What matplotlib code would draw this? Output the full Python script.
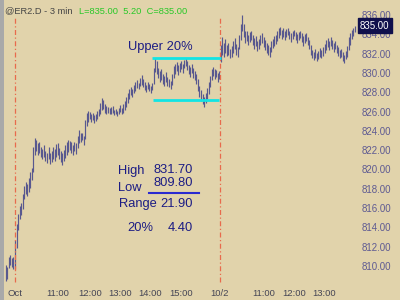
import matplotlib
matplotlib.use("Agg")
import matplotlib.pyplot as plt

# ---- data (3-min bars; index 0 = session open of Oct 1) ----
pre_highs = [810.2, 810.0, 811.0, 811.2, 810.9, 811.0]
pre_lows  = [808.6, 808.8, 809.9, 810.2, 810.0, 809.8]

s1_highs = [812.8, 814.5, 815.5, 816.3, 816.6, 817.6, 818.4, 818.8, 818.6, 819.2,
            819.8, 820.3, 822.4, 823.4, 823.2, 822.8, 822.9, 822.4, 822.2, 822.6,
            822.0, 821.8, 822.4, 821.8, 822.0, 822.4, 822.2, 822.7, 822.8, 822.3,
            822.0, 821.8, 822.1, 822.6, 822.9, 823.2, 823.1, 822.9, 822.6, 823.0,
            822.8, 823.6, 824.2, 823.9, 823.9, 823.6, 825.2, 826.0, 826.2, 826.1,
            825.8, 826.0, 825.7, 825.9, 826.2, 826.4, 827.0, 827.5, 827.3, 826.9,
            826.7, 826.6, 826.5, 826.6, 826.7, 826.3, 826.4, 826.2, 826.5, 826.8,
            826.5, 826.9, 827.2, 827.6, 828.0, 828.4, 828.6, 828.4, 828.9, 829.2,
            829.4, 829.1, 829.6, 829.9, 829.5, 829.2, 828.9, 829.2, 829.0, 828.8,
            829.1, 830.6, 831.7, 831.3, 830.6, 830.3, 830.5, 830.0, 829.8, 830.2,
            829.7, 829.5, 829.3, 830.0, 830.8, 831.0, 831.2, 830.9, 831.1, 831.3,
            831.0, 831.4, 831.6, 831.3, 830.9, 830.7, 831.0, 830.6, 830.3, 830.0,
            829.5, 828.8, 828.3, 827.9, 827.6, 828.0, 828.5, 829.2, 829.8, 830.5,
            830.7, 830.5, 830.4, 830.1, 830.3]
s1_lows  = [809.8, 812.0, 813.8, 815.0, 815.4, 816.0, 817.0, 817.6, 817.4, 817.8,
            818.2, 819.0, 819.8, 821.6, 822.0, 821.6, 821.8, 821.4, 821.2, 821.4,
            821.0, 820.8, 821.2, 820.7, 820.9, 821.2, 821.0, 821.4, 821.6, 821.2,
            820.9, 820.6, 821.0, 821.3, 821.6, 821.9, 822.1, 821.8, 821.6, 822.0,
            821.7, 822.3, 822.8, 823.0, 823.2, 822.6, 823.3, 824.6, 825.0, 825.3,
            825.0, 825.2, 824.9, 825.1, 825.3, 825.6, 825.8, 826.3, 826.4, 826.0,
            825.9, 826.0, 825.8, 825.9, 826.0, 825.7, 825.8, 825.6, 825.9, 826.1,
            825.8, 826.0, 826.3, 826.6, 827.0, 827.4, 827.8, 827.6, 828.0, 828.2,
            828.5, 828.4, 828.7, 828.9, 828.6, 828.3, 828.1, 828.4, 828.2, 828.0,
            828.3, 829.0, 830.2, 830.0, 829.6, 829.2, 829.4, 829.0, 828.8, 829.2,
            828.8, 828.6, 828.4, 828.9, 829.6, 830.0, 830.3, 829.9, 830.2, 830.5,
            830.1, 830.6, 830.8, 830.4, 830.0, 829.7, 830.1, 829.6, 829.4, 829.0,
            828.2, 827.6, 827.2, 826.9, 826.6, 827.0, 827.4, 827.9, 828.6, 829.4,
            829.8, 829.5, 829.7, 829.2, 829.5]

s2_highs = [833.0, 833.8, 833.2, 833.6, 833.0, 833.2, 832.6, 832.9, 833.4, 833.7,
            833.1, 832.8, 834.0, 835.2, 836.1, 835.2, 834.4, 834.5, 834.0, 834.3,
            834.5, 834.0, 833.7, 833.9, 833.4, 833.6, 834.0, 834.2, 833.8, 833.5,
            833.2, 833.0, 832.8, 833.4, 833.6, 833.9, 834.0, 834.4, 834.8, 834.9,
            834.6, 834.8, 834.4, 834.7, 834.8, 834.5, 834.2, 834.5, 834.6, 834.3,
            834.1, 834.3, 834.5, 834.2, 833.9, 834.1, 834.2, 833.8, 833.5, 833.0,
            832.5, 832.3, 832.6, 832.2, 832.4, 832.7, 832.5, 832.8, 833.1, 833.5,
            833.7, 833.4, 833.8, 833.5, 833.2, 833.4, 833.0, 832.8, 832.5, 832.6,
            832.3, 832.0, 832.4, 832.9, 833.8, 834.2, 834.6, 834.8, 835.0]
s2_lows  = [831.2, 832.0, 831.8, 832.2, 831.9, 832.0, 831.6, 831.8, 832.2, 832.6,
            832.0, 831.8, 832.6, 833.5, 834.4, 833.8, 833.2, 833.4, 833.0, 833.3,
            833.5, 833.0, 832.6, 832.9, 832.4, 832.6, 833.0, 833.2, 832.8, 832.5,
            832.2, 832.0, 831.8, 832.3, 832.7, 832.9, 833.1, 833.4, 833.7, 834.0,
            833.6, 833.8, 833.5, 833.8, 834.0, 833.6, 833.3, 833.6, 833.9, 833.5,
            833.2, 833.5, 833.7, 833.3, 832.9, 833.2, 833.4, 833.0, 832.6, 832.0,
            831.6, 831.4, 831.7, 831.3, 831.5, 831.8, 831.6, 831.9, 832.2, 832.5,
            832.8, 832.5, 832.9, 832.6, 832.3, 832.6, 832.2, 831.9, 831.6, 831.8,
            831.3, 831.1, 831.5, 831.8, 832.5, 833.0, 833.6, 833.9, 834.3]

y_ticks = [810, 812, 814, 816, 818, 820, 822, 824, 826, 828, 830, 832, 834, 836]
x_tick_pos = [0, 28.2, 49.2, 68.9, 88.5, 109, 134.4, 163.3, 183, 203]
x_tick_labels = ["Oct", "11:00", "12:00", "13:00", "14:00", "15:00", "10/2", "11:00", "12:00", "13:00"]
session_starts = [0, 134.4]

last_price = 835.00
net_change = 5.20
upper_level = 831.70
lower_level = 827.30
high_val, low_val = 831.70, 809.80
range_val = 21.90
pct20_val = 4.40

# ---- figure ----
BG = "#e1d3ab"
fig = plt.figure(figsize=(4, 3), dpi=100)
fig.patch.set_facecolor(BG)
ax = fig.add_axes([0, 0, 1, 1])
ax.set_facecolor(BG)
ax.set_xlim(-9.84, 252.5)
ax.set_ylim(806.58, 837.66)
ax.axis("off")

FONT = "Liberation Sans"

def px(x, y):
    return (x / 400.0, 1 - y / 300.0)

# bars
highs = pre_highs + s1_highs + s2_highs
lows = pre_lows + s1_lows + s2_lows
xs = list(range(-len(pre_highs), len(s1_highs) + len(s2_highs)))
ax.vlines(xs, lows, highs, color="#58588f", lw=0.85)

# session separators
for s in session_starts:
    ax.axvline(s, ymin=0.06, ymax=0.94, color="#e86a4c", lw=0.9, ls=(0, (4, 2, 1, 2)))

# cyan 20% lines
ax.hlines([upper_level], 89.8, 135.0, color="#12e4e4", lw=2)
ax.hlines([lower_level], 90.5, 133.8, color="#12e4e4", lw=2)

# right price axis labels
for v in y_ticks:
    ax.text(0.903, v, f"{v:.2f}", transform=ax.get_yaxis_transform(),
            ha="left", va="center", fontsize=7, family=FONT, color="#5e5a92")
ax.text(0.9, last_price, f"{last_price:.2f}", transform=ax.get_yaxis_transform(),
        ha="left", va="center", fontsize=7, family=FONT, color="white",
        bbox=dict(boxstyle="square,pad=0.25", fc="#10104c", ec="#10104c"))

# bottom time labels
for p, lab in zip(x_tick_pos, x_tick_labels):
    ax.text(p, 0.023, lab, transform=ax.get_xaxis_transform(), ha="center",
            va="center", fontsize=6.8, family=FONT, color="#454555")

# header
fig.text(*px(5, 11), "@ER2.D - 3 min", ha="left", va="center", fontsize=6.7,
         family=FONT, color="#454545")
fig.text(*px(79, 11), f"L={last_price:.2f}  {net_change:.2f}  C={last_price:.2f}", ha="left",
         va="center", fontsize=6.7, family=FONT, color="#28c828")

# left border
fig.patches.append(plt.Rectangle((0, 0), 3.5 / 400, 1, transform=fig.transFigure,
                                 fc="#a9a9a9", ec="none"))

# annotations
NAVY = "#1c1c84"
fig.text(*px(128, 47), "Upper 20%", ha="left", va="center", fontsize=9.3, family=FONT, color=NAVY)
fig.text(*px(118, 171), "High", ha="left", va="center", fontsize=9.3, family=FONT, color=NAVY)
fig.text(*px(193, 170), f"{high_val:.2f}", ha="right", va="center", fontsize=9.3, family=FONT, color=NAVY)
fig.text(*px(118, 188), "Low", ha="left", va="center", fontsize=9.3, family=FONT, color=NAVY)
fig.text(*px(193, 183), f"{low_val:.2f}", ha="right", va="center", fontsize=9.3, family=FONT, color=NAVY)
fig.add_artist(plt.Line2D([149 / 400, 199 / 400], [1 - 193 / 300, 1 - 193 / 300],
                          transform=fig.transFigure, color="#2a2ad0", lw=1.5))
fig.text(*px(119, 204), "Range", ha="left", va="center", fontsize=9.3, family=FONT, color=NAVY)
fig.text(*px(193, 204), f"{range_val:.2f}", ha="right", va="center", fontsize=9.3, family=FONT, color=NAVY)
fig.text(*px(127, 228), "20%", ha="left", va="center", fontsize=9.3, family=FONT, color=NAVY)
fig.text(*px(193, 228), f"{pct20_val:.2f}", ha="right", va="center", fontsize=9.3, family=FONT, color=NAVY)

fig.savefig("out.png", dpi=100, facecolor=BG)
